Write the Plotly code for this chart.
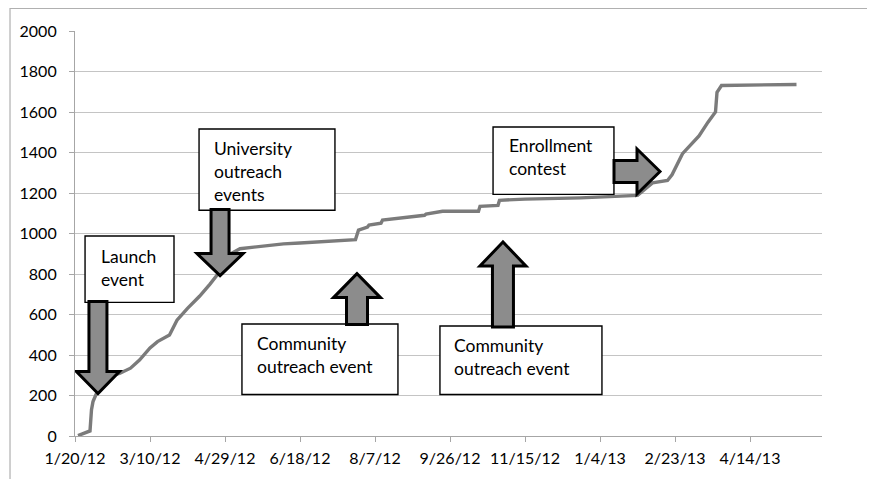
import plotly.graph_objects as go
import pandas as pd

# ---- data ----
dates = ["2012-01-22", "2012-01-30", "2012-01-31", "2012-02-01", "2012-02-03", "2012-02-07",
         "2012-02-12", "2012-02-19", "2012-02-26", "2012-03-03", "2012-03-10", "2012-03-15",
         "2012-03-23", "2012-03-26", "2012-03-28", "2012-04-04", "2012-04-12", "2012-04-19",
         "2012-04-24", "2012-04-29", "2012-05-04", "2012-05-09", "2012-06-07", "2012-06-18",
         "2012-07-25", "2012-07-27", "2012-08-02", "2012-08-03", "2012-08-11", "2012-08-12",
         "2012-08-24", "2012-09-09", "2012-09-10", "2012-09-21", "2012-10-15", "2012-10-16",
         "2012-10-28", "2012-10-29", "2012-11-15", "2012-12-22", "2013-01-29", "2013-02-08",
         "2013-02-18", "2013-02-21", "2013-02-28", "2013-03-11", "2013-03-17", "2013-03-21",
         "2013-03-22", "2013-03-23", "2013-03-24", "2013-03-26", "2013-05-15"]
enrolled = [2, 25, 130, 170, 205, 255,
            293, 310, 335, 375, 435, 466,
            499, 540, 572, 630, 690, 750,
            797, 860, 905, 925, 949, 953,
            970, 1017, 1032, 1042, 1051, 1066,
            1076, 1090, 1096, 1110, 1110, 1134,
            1139, 1164, 1170, 1176, 1188, 1250,
            1262, 1290, 1394, 1482, 1550, 1589,
            1600, 1697, 1711, 1731, 1736]

tick_dates = ["2012-01-20", "2012-03-10", "2012-04-29", "2012-06-18", "2012-08-07",
              "2012-09-26", "2012-11-15", "2013-01-04", "2013-02-23", "2013-04-14"]
tick_labels = ["1/20/12", "3/10/12", "4/29/12", "6/18/12", "8/7/12",
               "9/26/12", "11/15/12", "1/4/13", "2/23/13", "4/14/13"]
y_ticks = [0, 200, 400, 600, 800, 1000, 1200, 1400, 1600, 1800, 2000]

# callout labels
labels = ["Launch<br>event", "University<br>outreach<br>events",
          "Community<br>outreach event", "Community<br>outreach event",
          "Enrollment<br>contest"]

START = pd.Timestamp("2012-01-20")


def d(n):
    return (START + pd.Timedelta(days=n)).strftime("%Y-%m-%d %H:%M:%S")


FONT = "Lato, Open Sans, sans-serif"

fig = go.Figure()
fig.add_trace(go.Scatter(x=dates, y=enrolled, mode="lines",
                         line=dict(color="#7b7b7b", width=3.4), hoverinfo="skip"))

# boxes: (x0 day, x1 day, y0, y1, text x day, text y)
boxes = [
    (6.7, 66, 660, 988, 16, 831),
    (82.7, 173.3, 1115, 1516, 91.3, 1306),
    (111.3, 215.3, 205, 553, 120, 401),
    (243.3, 351.3, 205, 543, 251.3, 391),
    (278.7, 359.3, 1193, 1526, 288, 1376),
]

shapes = []
annotations = []
for (bx0, bx1, by0, by1, tx, ty), lab in zip(boxes, labels):
    shapes.append(dict(type="rect", xref="x", yref="y", x0=d(bx0), x1=d(bx1), y0=by0, y1=by1,
                       line=dict(color="black", width=1.4), fillcolor="white", layer="above"))
    annotations.append(dict(x=d(tx), y=ty, xref="x", yref="y", text=lab, showarrow=False,
                            xanchor="left", yanchor="middle", align="left",
                            font=dict(family=FONT, size=17.5, color="black")))

# block arrows: (tip day, tip value, direction, length, head len, head half width, shaft half width)
arrows = [
    (15.3, 210, "down", 92, 22, 21.5, 9),
    (96.7, 792, "down", 66, 22, 23, 9),
    (188, 802, "up", 51, 24, 23.5, 10.5),
    (285.3, 958, "up", 85, 24, 23, 10.5),
    (390, 1306, "right", 46, 23, 22.5, 11),
]
for tx, ty, direc, L, h, hw, sw in arrows:
    if direc in ("down", "up"):
        s = 1 if direc == "down" else -1
        pts = [(0, 0), (-hw, s * h), (-sw, s * h), (-sw, s * L), (sw, s * L), (sw, s * h), (hw, s * h)]
    else:
        pts = [(0, 0), (-h, hw), (-h, sw), (-L, sw), (-L, -sw), (-h, -sw), (-h, -hw)]
    path = "M" + " L".join(f"{px},{py}" for px, py in pts) + " Z"
    shapes.append(dict(type="path", xref="x", yref="y", xsizemode="pixel", ysizemode="pixel",
                       xanchor=d(tx), yanchor=ty, path=path,
                       line=dict(color="black", width=3), fillcolor="#8c8c8c", layer="above"))

# outer frame
shapes.append(dict(type="rect", xref="paper", yref="paper", x0=-0.087, x1=1.068, y0=-0.2, y1=1.056,
                   line=dict(color="#b0b0b0", width=1.2), fillcolor="rgba(0,0,0,0)", layer="below"))

# page body has an 8px margin, so the figure is shifted; compensate here
fig.update_layout(
    width=867, height=471,
    margin=dict(l=67, r=53, t=23, b=39),
    paper_bgcolor="white", plot_bgcolor="white",
    showlegend=False,
    shapes=shapes, annotations=annotations,
    font=dict(family=FONT, size=16, color="black"),
)
fig.update_xaxes(type="date", range=["2012-01-20", "2013-06-01"],
                 tickvals=tick_dates, ticktext=tick_labels,
                 showgrid=False, showline=True, linecolor="#a6a6a6", linewidth=1.2,
                 ticks="outside", ticklen=5, tickcolor="#a6a6a6", ticklabelstandoff=3,
                 tickfont=dict(family=FONT, size=16, color="black"))
fig.update_yaxes(range=[0, 2000], tickvals=y_ticks, ticktext=[str(v) for v in y_ticks],
                 showgrid=True, gridcolor="#c4c4c4", gridwidth=1.2,
                 showline=True, linecolor="#a6a6a6", linewidth=1.2,
                 ticks="outside", ticklen=5, tickcolor="#a6a6a6", zeroline=False,
                 ticklabelstandoff=9,
                 tickfont=dict(family=FONT, size=16, color="black"))

fig.write_html("out.html")
